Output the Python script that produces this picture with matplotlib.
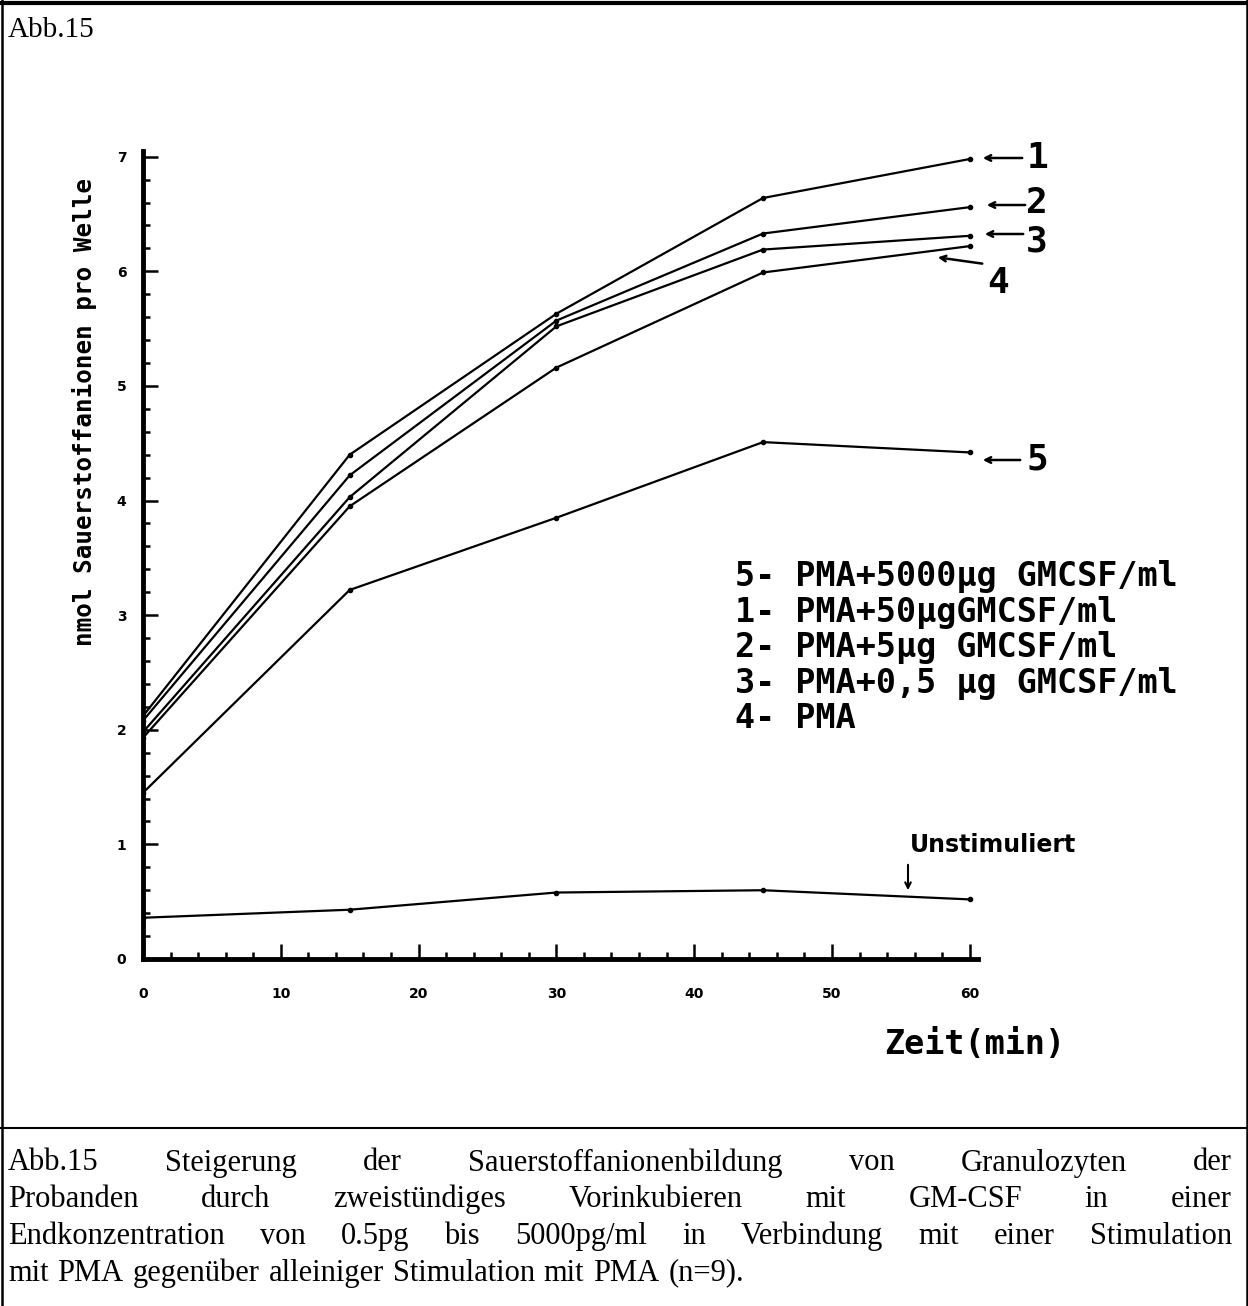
import matplotlib
matplotlib.use("Agg")
import matplotlib.pyplot as plt
from matplotlib.ticker import MultipleLocator

W, H = 1248, 1306

# data
zeit = [0, 15, 30, 45, 60]
kurve1 = [2.12, 4.40, 5.63, 6.64, 6.98]
kurve2 = [2.08, 4.22, 5.57, 6.33, 6.56]
kurve3 = [1.98, 4.03, 5.52, 6.19, 6.31]
kurve4 = [1.93, 3.95, 5.16, 5.99, 6.22]
kurve5 = [1.45, 3.22, 3.85, 4.51, 4.42]
unstimuliert = [0.36, 0.43, 0.58, 0.60, 0.52]

legend_lines = ["5- PMA+5000µg GMCSF/ml",
                "1- PMA+50µgGMCSF/ml",
                "2- PMA+5µg GMCSF/ml",
                "3- PMA+0,5 µg GMCSF/ml",
                "4- PMA"]

caption = ["Abb.15 Steigerung der Sauerstoffanionenbildung von Granulozyten der",
           "Probanden durch zweistündiges Vorinkubieren mit GM-CSF in einer",
           "Endkonzentration von 0.5pg bis 5000pg/ml in Verbindung mit einer Stimulation",
           "mit PMA gegenüber alleiniger Stimulation mit PMA (n=9)."]

mono = ["DejaVu Sans Mono"]
serif_font = ["Liberation Serif", "DejaVu Serif"]


def fx(px):
    return px / W


def fy(py):
    return 1 - py / H


fig = plt.figure(figsize=(W / 100, H / 100), dpi=100)
ax = fig.add_axes([fx(143), fy(959), fx(978 - 143), (959 - 151) / H])

for serie in [kurve1, kurve2, kurve3, kurve4, kurve5, unstimuliert]:
    ax.plot(zeit, serie, color="black", lw=1.6, marker="o", ms=3)

ax.set_xlim(0, 60.6)
ax.set_ylim(0, 7.05)
for s in ["top", "right"]:
    ax.spines[s].set_visible(False)
ax.spines["left"].set_linewidth(3.5)
ax.spines["bottom"].set_linewidth(3.5)
ax.xaxis.set_major_locator(MultipleLocator(10))
ax.xaxis.set_minor_locator(MultipleLocator(2))
ax.yaxis.set_major_locator(MultipleLocator(1))
ax.yaxis.set_minor_locator(MultipleLocator(0.2))
ax.tick_params(which="major", direction="in", length=11, width=1.8, labelsize=10, pad=12)
ax.tick_params(which="minor", direction="in", length=5, width=1.8)
ax.tick_params(axis="x", which="major", pad=20)
for lab in ax.get_xticklabels() + ax.get_yticklabels():
    lab.set_fontweight("bold")

fig.text(fx(85), fy(412), "nmol Sauerstoffanionen pro Welle", rotation=90,
         ha="center", va="center", fontsize=17.5, fontweight="bold", family=mono)
fig.text(fx(975), fy(1045), "Zeit(min)", ha="center", va="center",
         fontsize=24, fontweight="bold", family=mono)

# legend text block
for i, txt in enumerate(legend_lines):
    fig.text(fx(735), fy(577 + i * 35.5), txt, ha="left", va="center",
             fontsize=24, fontweight="bold", family=mono)

# numbered arrows at line ends
arrows = [((1025, 158), (980, 158), "1", (1037, 158)),
          ((1028, 205), (984, 205), "2", (1037, 203)),
          ((1026, 234), (982, 234), "3", (1037, 241)),
          ((985, 264), (935, 257), "4", (998, 283)),
          ((1023, 460), (980, 460), "5", (1037, 460))]
for start, end, num, pos in arrows:
    fig.add_artist(plt.Annotation("", xy=(end[0], H - end[1]), xytext=(start[0], H - start[1]),
                                  xycoords="figure pixels", textcoords="figure pixels",
                                  arrowprops=dict(arrowstyle="->", lw=1.8, color="black")))
    fig.text(fx(pos[0]), fy(pos[1]), num, ha="center", va="center",
             fontsize=26, fontweight="bold", family=mono)

fig.text(fx(993), fy(845), "Unstimuliert", ha="center", va="center",
         fontsize=17, fontweight="bold", family=["DejaVu Sans"])
fig.add_artist(plt.Annotation("", xy=(908, H - 893), xytext=(908, H - 862),
                              xycoords="figure pixels", textcoords="figure pixels",
                              arrowprops=dict(arrowstyle="->", lw=1.5, color="black")))

# frame
fig.add_artist(plt.Line2D([0, 1], [fy(3), fy(3)], color="black", lw=3))
fig.add_artist(plt.Line2D([fx(1.5), fx(1.5)], [0, 1], color="black", lw=1.8))
fig.add_artist(plt.Line2D([fx(1246.5), fx(1246.5)], [0, 1], color="black", lw=1.8))
fig.add_artist(plt.Line2D([0, 1], [fy(1128), fy(1128)], color="black", lw=1.5))

fig.text(fx(8), fy(30), "Abb.15", ha="left", va="center", fontsize=21, family=serif_font)

# caption, justified like the original
renderer = fig.canvas.get_renderer()
for i, line in enumerate(caption):
    y = fy(1163 + i * 36.7)
    words = line.split()
    ts = [fig.text(0, y, w, ha="left", va="center", fontsize=22, family=serif_font) for w in words]
    widths = [t.get_window_extent(renderer).width for t in ts]
    if i < len(caption) - 1:
        gap = (1232 - 8 - sum(widths)) / (len(words) - 1)
    else:
        gap = 9
    x = 8
    for t, wd in zip(ts, widths):
        t.set_x(fx(x))
        x += wd + gap

fig.savefig("out.png", dpi=100)
